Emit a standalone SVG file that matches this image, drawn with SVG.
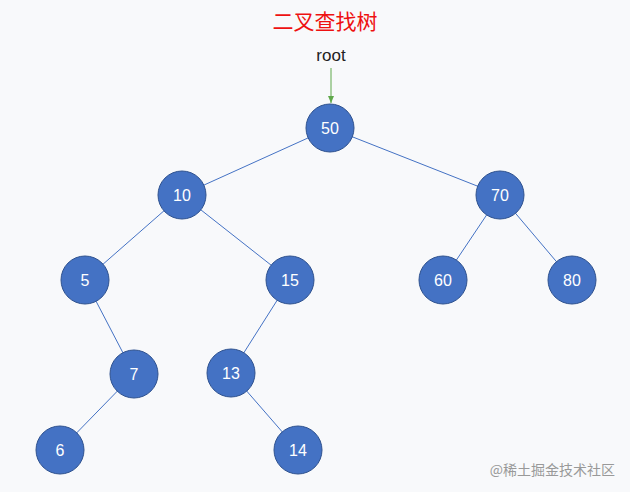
<svg xmlns="http://www.w3.org/2000/svg" width="630" height="492" viewBox="0 0 630 492">
<defs>
<marker id="ah" markerWidth="8" markerHeight="8" refX="7" refY="4" orient="auto" markerUnits="userSpaceOnUse"><path d="M0,1 L7,4 L0,7 Z" fill="#5fa84a"/></marker>
<style>
.n circle{fill:#4472c4;stroke:#2f528f;stroke-width:1}
.n text{fill:#fff;font-family:"Liberation Sans",Arial,sans-serif;font-size:16px;text-anchor:middle;dominant-baseline:central}
.e line{stroke:#4472c4;stroke-width:1}
</style>
</defs>
<rect width="630" height="492" fill="#f8f9fb"/>
<text x="325" y="29" fill="#ee1111" font-family="'Noto Sans CJK SC',sans-serif" font-size="21" text-anchor="middle">二叉查找树</text>
<text x="331" y="61" fill="#222" font-family="'Liberation Sans',Arial,sans-serif" font-size="17" text-anchor="middle">root</text>
<g class="e">
<line x1="331" y1="68" x2="331" y2="103" style="stroke:#5fa84a" marker-end="url(#ah)"/>
<line x1="330" y1="128" x2="182" y2="195"/>
<line x1="330" y1="128" x2="500" y2="195"/>
<line x1="182" y1="195" x2="85" y2="280"/>
<line x1="182" y1="195" x2="290" y2="280"/>
<line x1="500" y1="195" x2="443" y2="280"/>
<line x1="500" y1="195" x2="572" y2="280"/>
<line x1="85" y1="280" x2="134" y2="374"/>
<line x1="290" y1="280" x2="231" y2="373"/>
<line x1="134" y1="374" x2="60" y2="450"/>
<line x1="231" y1="373" x2="298" y2="450"/>
</g>
<g id="n50" class="n"><circle cx="330" cy="128" r="24"/><text x="330" y="128">50</text></g>
<g id="n10" class="n"><circle cx="182" cy="195" r="24"/><text x="182" y="195">10</text></g>
<g id="n70" class="n"><circle cx="500" cy="195" r="24"/><text x="500" y="195">70</text></g>
<g id="n5" class="n"><circle cx="85" cy="280" r="24"/><text x="85" y="280">5</text></g>
<g id="n15" class="n"><circle cx="290" cy="280" r="24"/><text x="290" y="280">15</text></g>
<g id="n60" class="n"><circle cx="443" cy="280" r="24"/><text x="443" y="280">60</text></g>
<g id="n80" class="n"><circle cx="572" cy="280" r="24"/><text x="572" y="280">80</text></g>
<g id="n7" class="n"><circle cx="134" cy="374" r="24"/><text x="134" y="374">7</text></g>
<g id="n13" class="n"><circle cx="231" cy="373" r="24"/><text x="231" y="373">13</text></g>
<g id="n6" class="n"><circle cx="60" cy="450" r="24"/><text x="60" y="450">6</text></g>
<g id="n14" class="n"><circle cx="298" cy="450" r="24"/><text x="298" y="450">14</text></g>
<text x="615" y="475" fill="#999" font-family="'Noto Sans CJK SC',sans-serif" font-size="14" text-anchor="end">@稀土掘金技术社区</text>
</svg>
